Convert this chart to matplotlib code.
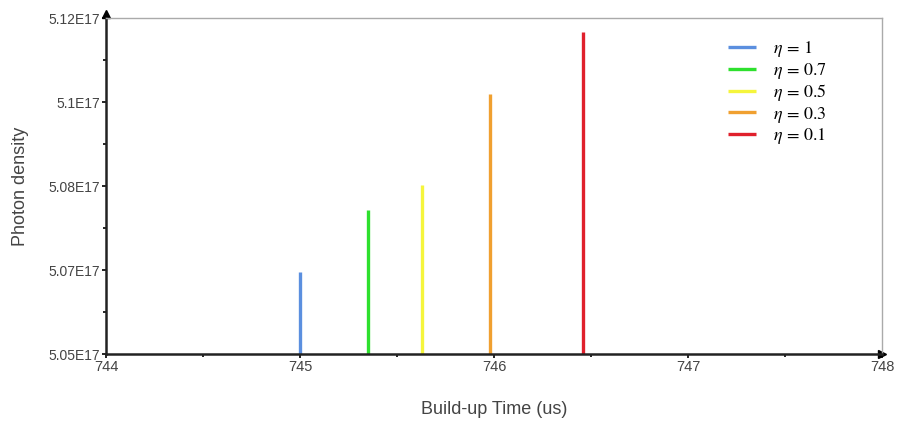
import matplotlib.pyplot as plt
import numpy as np

# peak positions (us) and peak photon densities (x1e17)
etas = ['1', '0.7', '0.5', '0.3', '0.1']
times = [745.0, 745.35, 745.63, 745.98, 746.46]
peaks = [5.0671, 5.0800, 5.0852, 5.1042, 5.1171]
colors = ['#5b8fdf', '#2ee02e', '#f5f53c', '#f0a030', '#e0202c']

ytick_vals = [5.05, 5.0675, 5.085, 5.1025, 5.12]
ytick_labels = ['5.05E17', '5.07E17', '5.08E17', '5.1E17', '5.12E17']
xtick_vals = [744, 745, 746, 747, 748]

plt.rcParams['font.family'] = ['Liberation Sans', 'DejaVu Sans']
plt.rcParams['mathtext.fontset'] = 'stix'

fig = plt.figure(figsize=(9.01, 4.21), dpi=100)
ax = fig.add_axes([0.1176, 0.159, 0.8614, 0.798])

for eta, t, p, c in zip(etas, times, peaks, colors):
    ax.plot([t, t], [5.05, p], color=c, lw=2.4, solid_capstyle='butt',
            label=r'$\eta\,=\,%s$' % eta)

ax.set_xlim(744, 748)
ax.set_ylim(5.05, 5.12)
ax.set_xticks(xtick_vals)
ax.set_xticks(np.arange(744.5, 748, 1), minor=True)
ax.set_yticks(ytick_vals)
ax.set_yticklabels(ytick_labels)
ax.set_yticks(np.arange(5.05 + 0.00875, 5.12, 0.0175), minor=True)

ax.tick_params(axis='both', which='major', labelsize=10.5, labelcolor='#444444',
               length=3, width=1.2, color='black', pad=1)
ax.tick_params(axis='y', which='major', labelsize=10)
ax.tick_params(axis='both', which='minor', length=2, width=1.2, color='black')

for s in ['left', 'bottom']:
    ax.spines[s].set_linewidth(1.8)
    ax.spines[s].set_color('#222222')
for s in ['top', 'right']:
    ax.spines[s].set_linewidth(1)
    ax.spines[s].set_color('#aaaaaa')

# arrow heads on the axes
ax.plot([0], [1.012], marker='^', color='black', ms=6, transform=ax.transAxes, clip_on=False)
ax.plot([1.0], [0], marker='>', color='black', ms=6, transform=ax.transAxes, clip_on=False)

ax.set_xlabel('Build-up Time (us)', fontsize=13, color='#444444', labelpad=20)
ax.set_ylabel('Photon density', fontsize=13, color='#444444', labelpad=14)

leg = ax.legend(loc='upper left', bbox_to_anchor=(0.78, 0.985), frameon=False,
                fontsize=13, handlelength=1.6, labelspacing=0.08, handletextpad=0.9)

fig.savefig('out.png', dpi=100)
